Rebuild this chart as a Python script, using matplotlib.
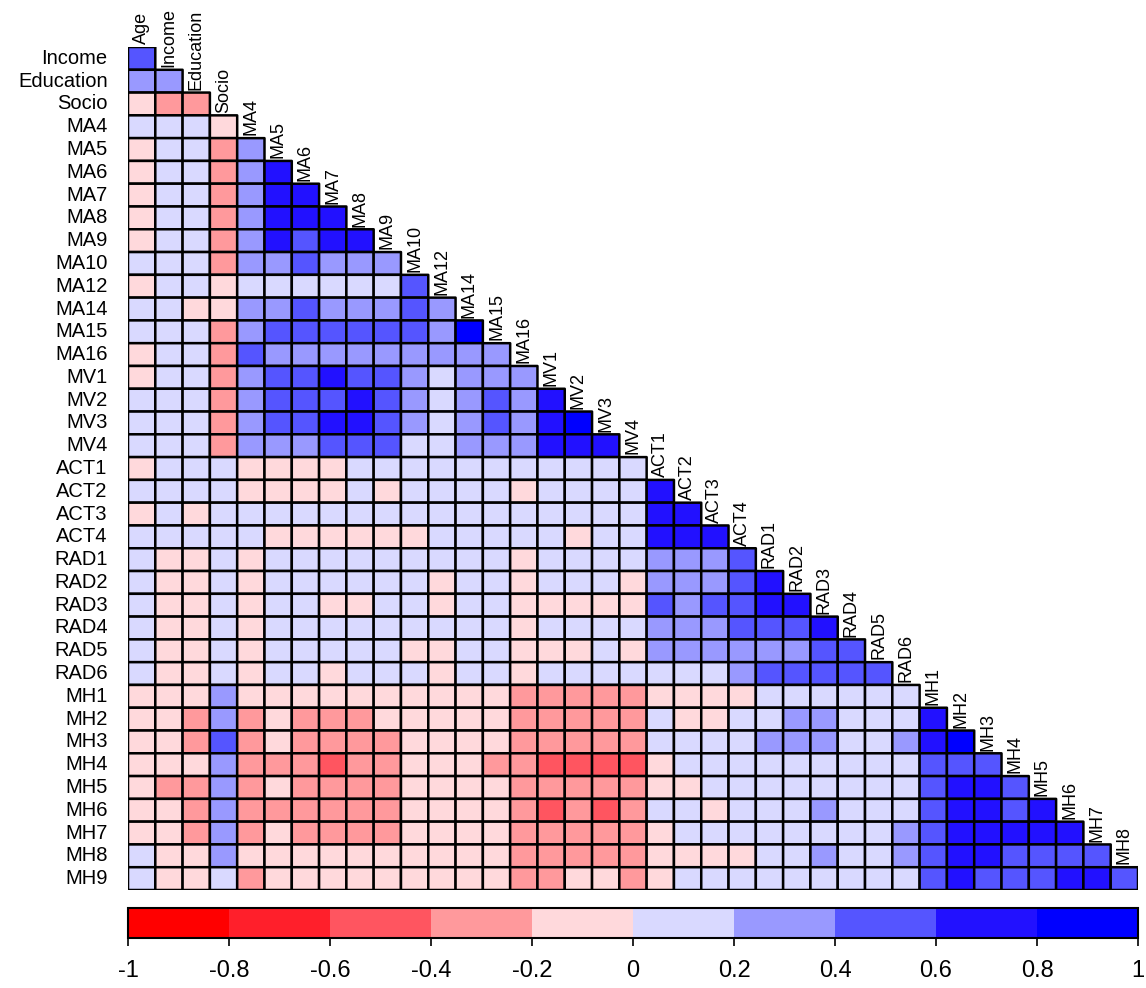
import numpy as np
import matplotlib
matplotlib.use("Agg")
import matplotlib.pyplot as plt
from matplotlib.colors import ListedColormap, BoundaryNorm

plt.rcParams['font.family'] = ['Liberation Sans', 'DejaVu Sans']

variables = ["Age", "Income", "Education", "Socio",
             "MA4", "MA5", "MA6", "MA7", "MA8", "MA9", "MA10", "MA12", "MA14", "MA15", "MA16",
             "MV1", "MV2", "MV3", "MV4",
             "ACT1", "ACT2", "ACT3", "ACT4",
             "RAD1", "RAD2", "RAD3", "RAD4", "RAD5", "RAD6",
             "MH1", "MH2", "MH3", "MH4", "MH5", "MH6", "MH7", "MH8", "MH9"]

# Lower-triangle correlations (row variable vs. preceding variables), estimated per colour bin
r_Income = [0.5]
r_Education = [0.3, 0.3]
r_Socio = [-0.1, -0.3, -0.3]
r_MA4 = [0.1, 0.1, 0.1, -0.1]
r_MA5 = [-0.1, 0.1, 0.1, -0.3, 0.3]
r_MA6 = [-0.1, 0.1, 0.1, -0.3, 0.3, 0.7]
r_MA7 = [-0.1, 0.1, 0.1, -0.3, 0.3, 0.7, 0.7]
r_MA8 = [-0.1, 0.1, 0.1, -0.3, 0.3, 0.7, 0.7, 0.7]
r_MA9 = [-0.1, 0.1, 0.1, -0.3, 0.3, 0.7, 0.5, 0.7, 0.7]
r_MA10 = [0.1, 0.1, 0.1, -0.3, 0.3, 0.3, 0.5, 0.3, 0.3, 0.3]
r_MA12 = [-0.1, 0.1, 0.1, -0.1, 0.1, 0.1, 0.1, 0.1, 0.1, 0.1, 0.5]
r_MA14 = [0.1, 0.1, -0.1, -0.1, 0.3, 0.3, 0.5, 0.3, 0.3, 0.3, 0.5, 0.3]
r_MA15 = [0.1, 0.1, 0.1, -0.3, 0.3, 0.5, 0.5, 0.5, 0.5, 0.5, 0.5, 0.3, 0.9]
r_MA16 = [-0.1, 0.1, 0.1, -0.3, 0.5, 0.3, 0.3, 0.3, 0.3, 0.3, 0.3, 0.3, 0.3, 0.3]
r_MV1 = [-0.1, 0.1, 0.1, -0.3, 0.3, 0.5, 0.5, 0.7, 0.5, 0.5, 0.3, 0.1, 0.3, 0.3, 0.3]
r_MV2 = [0.1, 0.1, 0.1, -0.3, 0.3, 0.5, 0.5, 0.5, 0.7, 0.5, 0.3, 0.1, 0.3, 0.5, 0.3, 0.7]
r_MV3 = [0.1, 0.1, 0.1, -0.3, 0.3, 0.5, 0.5, 0.7, 0.7, 0.5, 0.3, 0.1, 0.3, 0.5, 0.3, 0.7, 0.9]
r_MV4 = [0.1, 0.1, 0.1, -0.3, 0.3, 0.3, 0.3, 0.5, 0.5, 0.5, 0.1, 0.1, 0.3, 0.3, 0.3, 0.7, 0.7, 0.7]
r_ACT1 = [-0.1, 0.1, 0.1, 0.1, -0.1, -0.1, -0.1, -0.1, 0.1, 0.1, 0.1,
          0.1, 0.1, 0.1, 0.1, 0.1, 0.1, 0.1, 0.1]
r_ACT2 = [0.1, 0.1, 0.1, 0.1, -0.1, -0.1, -0.1, -0.1, 0.1, -0.1, 0.1,
          0.1, 0.1, 0.1, -0.1, 0.1, 0.1, 0.1, 0.1, 0.7]
r_ACT3 = [-0.1, 0.1, -0.1, 0.1, 0.1, 0.1, 0.1, 0.1, 0.1, 0.1, 0.1,
          0.1, 0.1, 0.1, 0.1, 0.1, 0.1, 0.1, 0.1, 0.7, 0.7]
r_ACT4 = [0.1, 0.1, 0.1, 0.1, 0.1, -0.1, -0.1, -0.1, -0.1, -0.1, -0.1,
          0.1, 0.1, 0.1, 0.1, 0.1, -0.1, 0.1, 0.1, 0.7, 0.7, 0.7]
r_RAD1 = [0.1, -0.1, -0.1, 0.1, -0.1, 0.1, 0.1, 0.1, 0.1, 0.1, 0.1,
          0.1, 0.1, 0.1, -0.1, 0.1, 0.1, 0.1, 0.1, 0.3, 0.3, 0.3, 0.5]
r_RAD2 = [0.1, -0.1, -0.1, 0.1, -0.1, 0.1, 0.1, 0.1, 0.1, 0.1, 0.1,
          -0.1, 0.1, 0.1, -0.1, 0.1, 0.1, 0.1, -0.1, 0.3, 0.3, 0.3, 0.5, 0.7]
r_RAD3 = [0.1, -0.1, -0.1, 0.1, -0.1, 0.1, 0.1, -0.1, -0.1, 0.1, 0.1,
          -0.1, 0.1, 0.1, -0.1, -0.1, -0.1, -0.1, -0.1, 0.5, 0.3, 0.5, 0.5, 0.7, 0.7]
r_RAD4 = [0.1, -0.1, -0.1, 0.1, -0.1, 0.1, 0.1, 0.1, 0.1, 0.1, 0.1,
          0.1, 0.1, 0.1, -0.1, 0.1, 0.1, 0.1, 0.1, 0.3, 0.3, 0.3, 0.5, 0.5, 0.5, 0.7]
r_RAD5 = [0.1, -0.1, -0.1, 0.1, -0.1, 0.1, 0.1, 0.1, 0.1, 0.1, -0.1,
          -0.1, 0.1, 0.1, -0.1, -0.1, -0.1, 0.1, -0.1, 0.3, 0.3, 0.3, 0.3, 0.3, 0.3, 0.5, 0.5]
r_RAD6 = [0.1, -0.1, -0.1, 0.1, -0.1, 0.1, 0.1, -0.1, 0.1, 0.1, 0.1,
          -0.1, 0.1, 0.1, -0.1, 0.1, 0.1, 0.1, 0.1, 0.1, 0.1, 0.1, 0.3, 0.5, 0.5, 0.5, 0.5, 0.5]
r_MH1 = [-0.1, -0.1, -0.1, 0.3, -0.1, -0.1, -0.1, -0.1, -0.1, -0.1, -0.1,
         -0.1, -0.1, -0.1, -0.3, -0.3, -0.3, -0.3, -0.3, -0.1, -0.1,
         -0.1, -0.1, 0.1, 0.1, 0.1, 0.1, 0.1, 0.1]
r_MH2 = [-0.1, -0.1, -0.3, 0.3, -0.3, -0.1, -0.3, -0.3, -0.3, -0.1, -0.1,
         -0.1, -0.1, -0.1, -0.3, -0.3, -0.3, -0.3, -0.3, 0.1, -0.1,
         -0.1, 0.1, 0.1, 0.3, 0.3, 0.1, 0.1, 0.1, 0.7]
r_MH3 = [-0.1, -0.1, -0.3, 0.5, -0.3, -0.1, -0.3, -0.3, -0.3, -0.3, -0.1,
         -0.1, -0.1, -0.1, -0.3, -0.3, -0.3, -0.3, -0.3, 0.1, 0.1,
         0.1, 0.1, 0.3, 0.3, 0.3, 0.1, 0.1, 0.3, 0.7, 0.9]
r_MH4 = [-0.1, -0.1, -0.1, 0.3, -0.3, -0.3, -0.3, -0.5, -0.3, -0.3, -0.1,
         -0.1, -0.1, -0.3, -0.3, -0.5, -0.5, -0.5, -0.5, -0.1, 0.1,
         0.1, 0.1, 0.1, 0.1, 0.1, 0.1, 0.1, 0.1, 0.5, 0.5, 0.5]
r_MH5 = [-0.1, -0.3, -0.3, 0.3, -0.3, -0.1, -0.3, -0.3, -0.3, -0.3, -0.1,
         -0.1, -0.1, -0.1, -0.3, -0.3, -0.3, -0.3, -0.3, -0.1, -0.1,
         0.1, 0.1, 0.1, 0.1, 0.1, 0.1, 0.1, 0.1, 0.5, 0.7, 0.7, 0.5]
r_MH6 = [-0.1, -0.1, -0.3, 0.3, -0.3, -0.3, -0.3, -0.3, -0.3, -0.3, -0.1,
         -0.1, -0.1, -0.1, -0.3, -0.5, -0.3, -0.5, -0.3, 0.1, 0.1,
         -0.1, 0.1, 0.1, 0.1, 0.3, 0.1, 0.1, 0.1, 0.5, 0.7, 0.7, 0.5, 0.7]
r_MH7 = [-0.1, -0.1, -0.3, 0.3, -0.3, -0.1, -0.3, -0.3, -0.3, -0.3, -0.1,
         -0.1, -0.1, -0.1, -0.3, -0.3, -0.3, -0.3, -0.3, -0.1, 0.1,
         0.1, 0.1, 0.1, 0.1, 0.1, 0.1, 0.1, 0.3, 0.5, 0.7, 0.7, 0.7, 0.7, 0.7]
r_MH8 = [0.1, -0.1, -0.1, 0.3, -0.1, -0.1, -0.1, -0.1, -0.1, -0.1, -0.1,
         -0.1, -0.1, -0.1, -0.3, -0.3, -0.3, -0.3, -0.3, -0.1, -0.1,
         -0.1, -0.1, 0.1, 0.1, 0.3, 0.1, 0.1, 0.3, 0.5, 0.7, 0.7, 0.5, 0.5, 0.5, 0.5]
r_MH9 = [0.1, -0.1, -0.1, 0.1, -0.3, -0.1, -0.1, -0.1, -0.1, -0.1, -0.1,
         -0.1, -0.1, -0.1, -0.3, -0.3, -0.1, -0.1, -0.3, -0.1, 0.1,
         0.1, 0.1, 0.1, 0.1, 0.1, 0.1, 0.1, 0.1, 0.5, 0.7, 0.5, 0.5, 0.5, 0.7, 0.7, 0.5]

rows = [r_Income, r_Education, r_Socio, r_MA4, r_MA5, r_MA6, r_MA7, r_MA8, r_MA9,
        r_MA10, r_MA12, r_MA14, r_MA15, r_MA16, r_MV1, r_MV2, r_MV3, r_MV4,
        r_ACT1, r_ACT2, r_ACT3, r_ACT4, r_RAD1, r_RAD2, r_RAD3, r_RAD4, r_RAD5, r_RAD6,
        r_MH1, r_MH2, r_MH3, r_MH4, r_MH5, r_MH6, r_MH7, r_MH8, r_MH9]

row_labels = variables[1:]
col_labels = variables[:-1]

bin_colors = ["#FF0000", "#FF1F2B", "#FF5560", "#FF999C", "#FFD9DC",
              "#D9D9FF", "#9999FF", "#5555FF", "#2211FF", "#0000FF"]
bounds = np.linspace(-1, 1, 11)
tick_labels = ["-1", "-0.8", "-0.6", "-0.4", "-0.2", "0", "0.2", "0.4", "0.6", "0.8", "1"]
cmap = ListedColormap(bin_colors)
norm = BoundaryNorm(bounds, cmap.N)

n = len(rows)
M = np.full((n, n), np.nan)
for i, r in enumerate(rows):
    M[i, :len(r)] = r
M = np.ma.masked_invalid(M)

W, H = 1146, 988
fig = plt.figure(figsize=(W / 100, H / 100), dpi=100)
ax = fig.add_axes([128 / W, (H - 890) / H, 1010 / W, 843 / H])
ax.pcolor(np.arange(n + 1), np.arange(n + 1), M, cmap=cmap, norm=norm,
          edgecolors="black", linewidths=1.8)
ax.set_xlim(0, n)
ax.set_ylim(n, 0)
ax.axis("off")

for i, lab in enumerate(row_labels):
    ax.text(-0.75, i + 0.5, lab, ha="right", va="center", fontsize=14.5, clip_on=False)
for j, lab in enumerate(col_labels):
    ax.text(j + 0.5, j - 0.12, lab, ha="center", va="bottom", rotation=90,
            fontsize=13, clip_on=False)

cax = fig.add_axes([128 / W, (H - 938) / H, 1010 / W, 30 / H])
sm = plt.cm.ScalarMappable(cmap=cmap, norm=norm)
cb = fig.colorbar(sm, cax=cax, orientation="horizontal", ticks=bounds)
cb.ax.set_xticklabels(tick_labels, family=['Liberation Sans Narrow', 'Liberation Sans', 'DejaVu Sans'],
                      fontsize=17)
cb.ax.tick_params(length=6, width=1.2, pad=10)
cb.outline.set_linewidth(1.5)

fig.savefig("out.png", dpi=100)
